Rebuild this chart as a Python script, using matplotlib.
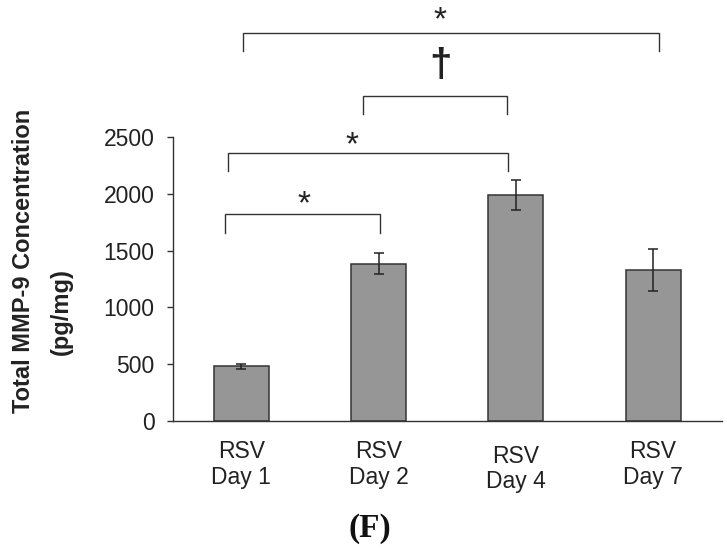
import matplotlib
matplotlib.use('Agg')
import matplotlib.pyplot as plt
import matplotlib.transforms as mtransforms

# Data
groups = ['RSV\nDay 1', 'RSV\nDay 2', 'RSV\nDay 4', 'RSV\nDay 7']
mmp9 = [482, 1385, 1990, 1330]
mmp9_err = [22, 95, 132, 185]
yticks = [0, 500, 1000, 1500, 2000, 2500]

# significance brackets: (x start, x end, bar height, leg bottom, symbol, symbol x, symbol y)
brackets = [
    (0.015, 3.04, 3418, 3257, '*', 1.45, 3450),
    (0.889, 1.936, 2861, 2700, '\u2020', 1.45, 3025),
    (-0.10, 1.94, 2362, 2201, '*', 0.806, 2348),
    (-0.12, 1.008, 1822, 1658, '*', 0.459, 1830),
]

plt.rcParams['font.family'] = ['Liberation Sans', 'DejaVu Sans']

fig = plt.figure(figsize=(7.27, 5.49), dpi=100)
ax = fig.add_axes([172.7 / 727, 128 / 549, 549 / 727, 284 / 549])

x = list(range(len(groups)))
ax.bar(x, mmp9, width=0.4, color='#969696', edgecolor='#333333', linewidth=1.1, zorder=2)
ax.errorbar(x, mmp9, yerr=mmp9_err, fmt='none', ecolor='#222222',
            elinewidth=1.1, capsize=3.5, capthick=1.1, zorder=3)

ax.set_xlim(-0.5, 3.5)
ax.set_ylim(0, 2500)
ax.set_yticks(yticks)
ax.set_xticks(x)
ax.set_xticklabels(groups, fontsize=16.5, color='#222222', linespacing=1.15)
ax.tick_params(axis='y', direction='out', length=4.5, width=1.0, color='#333333',
               pad=8.5, labelsize=16.5, labelcolor='#222222')
ax.tick_params(axis='x', length=0, pad=14)

for side in ['top', 'right']:
    ax.spines[side].set_visible(False)
for side in ['left', 'bottom']:
    ax.spines[side].set_color('#333333')
    ax.spines[side].set_linewidth(1.0)

# Day 4 label sits a little lower in the original
lab = ax.get_xticklabels()[2]
lab.set_transform(lab.get_transform() + mtransforms.ScaledTranslation(0, -3 / 72, fig.dpi_scale_trans))

# significance brackets
for x0, x1, top, leg, sym, sx, sy in brackets:
    ax.plot([x0, x0, x1, x1], [leg, top, top, leg], color='#333333', lw=1.0,
            clip_on=False, solid_joinstyle='miter')
    if sym == '*':
        ax.text(sx, sy, sym, ha='center', va='baseline', fontsize=24, color='#222222', clip_on=False)
    else:
        ax.text(sx, sy, sym, ha='center', va='baseline', fontsize=29, fontweight='bold',
                color='#222222', clip_on=False)

# y label (two lines, drawn separately as in the original)
fig.text(24 / 727, 1 - 261 / 549, 'Total MMP-9 Concentration', rotation=90,
         ha='center', va='center', fontsize=17, fontweight='bold', color='#222222')
fig.text(61 / 727, 1 - 312 / 549, '(pg/mg)', rotation=90,
         ha='center', va='center', fontsize=17, fontweight='bold', color='#222222')

fig.text(370 / 727, 1 - 529 / 549, '(F)', ha='center', va='center', fontsize=24,
         fontweight='bold', family=['Liberation Serif', 'DejaVu Serif'], color='#111111')

fig.savefig('out.png', dpi=100)
